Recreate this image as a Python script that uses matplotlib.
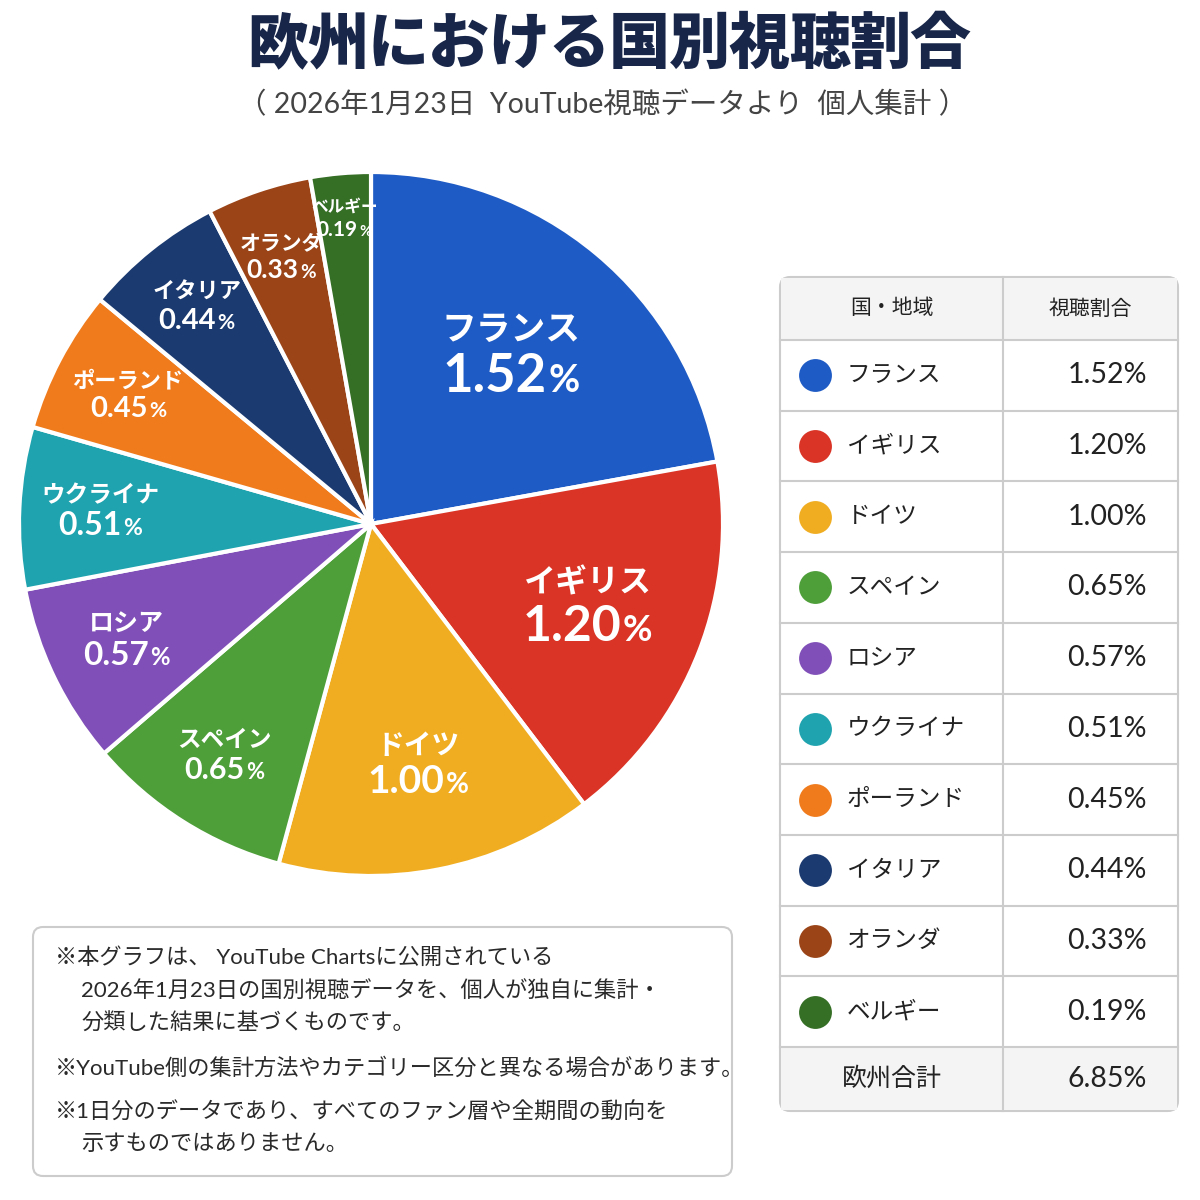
import matplotlib
matplotlib.use("Agg")
import matplotlib.pyplot as plt
from matplotlib.patches import FancyBboxPatch, Rectangle
from matplotlib.offsetbox import TextArea, HPacker, VPacker, AnnotationBbox
import numpy as np

plt.rcParams['font.family'] = ['Noto Sans CJK JP', 'DejaVu Sans']
MIX = ['Lato', 'Noto Sans CJK JP', 'DejaVu Sans']

# data
countries = ['フランス', 'イギリス', 'ドイツ', 'スペイン', 'ロシア',
             'ウクライナ', 'ポーランド', 'イタリア', 'オランダ', 'ベルギー']
shares = [1.52, 1.20, 1.00, 0.65, 0.57, 0.51, 0.45, 0.44, 0.33, 0.19]
total_label = '欧州合計'
total_value = 6.85
colors = ['#1F5BC4', '#D93425', '#F0AD22', '#4E9E3A', '#8050B8',
          '#1FA3AE', '#EF7B1C', '#1B3A70', '#9A4418', '#356E25']

title = '欧州における国別視聴割合'
subtitle = '（ 2026年1月23日  YouTube視聴データより  個人集計 ）'
header = ['国・地域', '視聴割合']
notes = [
    ('※本グラフは、 YouTube Chartsに公開されている', 0),
    ('2026年1月23日の国別視聴データを、個人が独自に集計・', 1),
    ('分類した結果に基づくものです。', 1),
    ('※YouTube側の集計方法やカテゴリー区分と異なる場合があります。', 0),
    ('※1日分のデータであり、すべてのファン層や全期間の動向を', 0),
    ('示すものではありません。', 1),
]

W = H = 1200
fig = plt.figure(figsize=(12, 12), dpi=100)
fig.patch.set_facecolor('white')

# pie, center (371, 524) px, radius 352 px
cx, cy, r = 371, 524, 352
ax = fig.add_axes([(cx - r) / W, 1 - (cy + r) / H, 2 * r / W, 2 * r / H])
wedges, _ = ax.pie(shares, colors=colors, startangle=90, counterclock=False,
                   wedgeprops=dict(edgecolor='white', linewidth=3))
for w in wedges:
    w.set_clip_on(False)
ax.set_xlim(-1, 1)
ax.set_ylim(-1, 1)
ax.set_aspect('equal')
ax.axis('off')

lab_r = [0.62, 0.66, 0.70, 0.78, 0.77, 0.77, 0.78, 0.79, 0.80, 0.87]
name_fs = [25, 23, 20, 17, 18, 17, 16, 16, 15, 12]
val_fs = [38, 36, 28, 22, 24, 23, 21, 21, 19, 15]
for i, w in enumerate(wedges):
    th = np.deg2rad((w.theta1 + w.theta2) / 2)
    x, y = lab_r[i] * np.cos(th), lab_r[i] * np.sin(th)
    name = TextArea(countries[i], textprops=dict(color='white', fontsize=name_fs[i],
                                                 fontweight='bold'))
    num = TextArea(f'{shares[i]:.2f}', textprops=dict(color='white', fontsize=val_fs[i],
                                                      fontweight='bold', family=MIX))
    pct = TextArea('%', textprops=dict(color='white', fontsize=val_fs[i] * 0.72,
                                       fontweight='bold', family=MIX))
    row = HPacker(children=[num, pct], align='baseline', pad=0, sep=1)
    box = VPacker(children=[name, row], align='center', pad=0, sep=3)
    ax.add_artist(AnnotationBbox(box, (x, y), frameon=False, box_alignment=(0.5, 0.5),
                                 annotation_clip=False))

# overlay in pixel coordinates
ov = fig.add_axes([0, 0, 1, 1])
ov.set_xlim(0, W)
ov.set_ylim(H, 0)
ov.axis('off')
ov.patch.set_alpha(0)

# title, letter-spaced
pitch = 60.2
x0 = 609 - pitch * (len(title) - 1) / 2
for k, ch in enumerate(title):
    ov.text(x0 + k * pitch, 45, ch, ha='center', va='center', fontsize=44,
            fontweight='black', color='#18264A')
ov.text(603, 105, subtitle, ha='center', va='center', fontsize=20.5, color='#444444',
        family=MIX)

# table
tx0, tx1, colx = 780, 1178, 1003
head_h, row_h, tot_h = 63, 70.7, 64
ty0 = 277
ty1 = ty0 + head_h + row_h * len(countries) + tot_h
line_c = '#CCCCCC'
txt_c = '#222222'
ov.add_patch(FancyBboxPatch((tx0, ty0), tx1 - tx0, ty1 - ty0,
                            boxstyle='round,pad=0,rounding_size=10',
                            facecolor='white', edgecolor=line_c, lw=1.5, zorder=1))
ov.add_patch(Rectangle((tx0 + 1, ty0 + 1), tx1 - tx0 - 2, head_h - 1,
                       facecolor='#F4F4F4', edgecolor='none', zorder=1.5))
ov.add_patch(Rectangle((tx0 + 1, ty1 - tot_h), tx1 - tx0 - 2, tot_h - 1,
                       facecolor='#F4F4F4', edgecolor='none', zorder=1.5))
ov.text((tx0 + colx) / 2, ty0 + head_h / 2, header[0], ha='center', va='center',
        fontsize=15, color=txt_c, zorder=3)
ov.text((colx + tx1) / 2, ty0 + head_h / 2, header[1], ha='center', va='center',
        fontsize=15, color=txt_c, zorder=3)
ov.plot([colx, colx], [ty0, ty1], color=line_c, lw=1.5, zorder=2)
ov.plot([tx0, tx1], [ty0 + head_h] * 2, color=line_c, lw=1.5, zorder=2)
for i, (name, val) in enumerate(zip(countries, shares)):
    yc = ty0 + head_h + row_h * (i + 0.5)
    ov.plot([tx0, tx1], [ty0 + head_h + row_h * (i + 1)] * 2, color=line_c,
            lw=1.5, zorder=2)
    ov.scatter([815], [yc], s=560, color=colors[i], zorder=3, linewidths=0)
    ov.text(847, yc, name, ha='left', va='center', fontsize=17, color=txt_c, zorder=3)
    ov.text(1147, yc, f'{val:.2f}%', ha='right', va='center', fontsize=20.5,
            color=txt_c, zorder=3, family=MIX)
yc = ty1 - tot_h / 2
ov.text((tx0 + colx) / 2, yc, total_label, ha='center', va='center', fontsize=18,
        color=txt_c, zorder=3)
ov.text(1147, yc, f'{total_value:.2f}%', ha='right', va='center', fontsize=20.5,
        color=txt_c, zorder=3, family=MIX)

# notes box
ov.add_patch(FancyBboxPatch((33, 927), 732 - 33, 1176 - 927,
                            boxstyle='round,pad=0,rounding_size=10',
                            facecolor='white', edgecolor=line_c, lw=1.5, zorder=1))
note_y = [958, 991, 1023, 1068, 1112, 1144]
for (txt, indent), y in zip(notes, note_y):
    ov.text(55 + indent * 26, y, txt, ha='left', va='center', fontsize=16,
            color='#2A2A2A', zorder=3, family=MIX)

fig.savefig('out.png', dpi=100, facecolor='white')
